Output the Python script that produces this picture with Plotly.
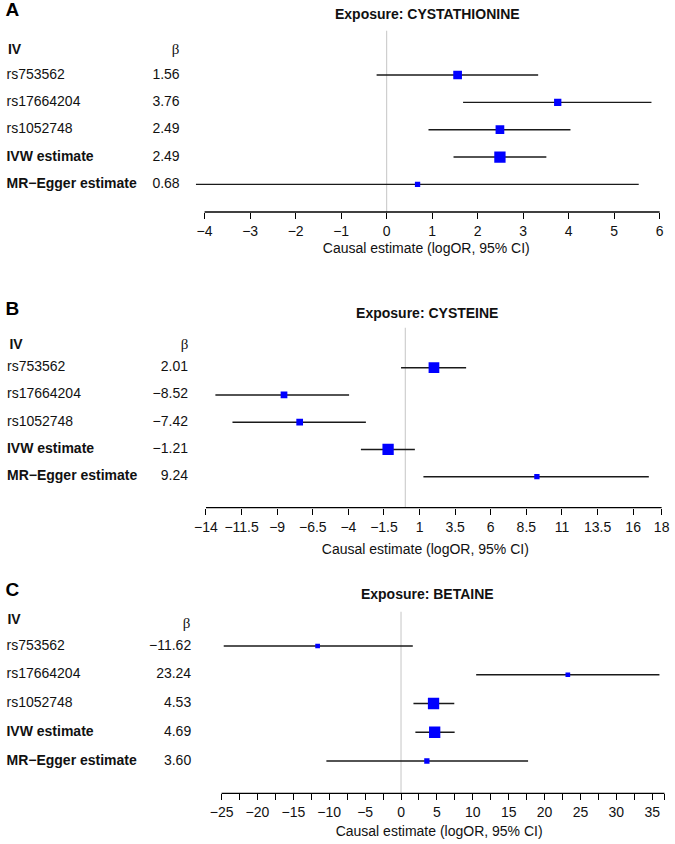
import plotly.graph_objects as go

W, H = 675, 844

# ---------------- data ----------------
iv_labels = ["rs753562", "rs17664204", "rs1052748", "IVW estimate", "MR\u2212Egger estimate"]
iv_bold = [False, False, False, True, True]

titles = ["Exposure: CYSTATHIONINE", "Exposure: CYSTEINE", "Exposure: BETAINE"]
panel_letters = ["A", "B", "C"]

A_beta = [1.56, 3.76, 2.49, 2.49, 0.68]
A_lo = [-0.22, 1.68, 0.92, 1.47, -4.19]
A_hi = [3.33, 5.82, 4.04, 3.51, 5.54]
A_weight = [8.7, 7.3, 8.7, 11.3, 5.3]

B_beta = [2.01, -8.52, -7.42, -1.21, 9.24]
B_lo = [-0.30, -13.34, -12.14, -3.12, 1.27]
B_hi = [4.27, -3.95, -2.77, 0.67, 17.10]
B_weight = [10.7, 6.7, 6.7, 11.3, 5.3]

C_beta = [-11.62, 23.24, 4.53, 4.69, 3.60]
C_lo = [-24.70, 10.47, 1.73, 2.00, -10.40]
C_hi = [1.64, 36.00, 7.42, 7.47, 17.70]
C_weight = [4.7, 4.7, 11.3, 11.3, 5.3]

A_ticks = [-4, -3, -2, -1, 0, 1, 2, 3, 4, 5, 6]
A_ticklabels = ["-4", "-3", "-2", "-1", "0", "1", "2", "3", "4", "5", "6"]
B_ticks = [-14, -11.5, -9, -6.5, -4, -1.5, 1, 3.5, 6, 8.5, 11, 13.5, 16, 18]
B_ticklabels = ["-14", "-11.5", "-9", "-6.5", "-4", "-1.5", "1", "3.5", "6", "8.5", "11", "13.5", "16", "18"]
C_ticks = [-25, -22.5, -20, -17.5, -15, -12.5, -10, -7.5, -5, -2.5, 0, 2.5, 5, 7.5,
           10, 12.5, 15, 17.5, 20, 22.5, 25, 27.5, 30, 32.5, 35, 36.7]
C_ticklabels = ["-25", "", "-20", "", "-15", "", "-10", "", "-5", "", "0", "", "5", "",
                "10", "", "15", "", "20", "", "25", "", "30", "", "35", ""]

axis_title = "Causal estimate (logOR, 95% CI)"

# ---------------- geometry (pixels) ----------------
FONT = "Liberation Sans, Arial, Helvetica, sans-serif"
SERIF = "Liberation Serif, DejaVu Serif, serif"
TXT = "#111111"
panels = [
    dict(beta=A_beta, lo=A_lo, hi=A_hi, w=A_weight, ticks=A_ticks, tl=A_ticklabels,
         cal=(-4, 202.3, 6, 663.5), xr=(-4.5, 6.2),
         row1=75, sp=27.35, top=30.7, axis=212,
         head_y=50, beta_head_y=50, title_y=15, letter_y=11.7, atitle_y=249, atitle_x=427,
         lab_x=1.5, iv_x=3, val_r=177, beta_x=173),
    dict(beta=B_beta, lo=B_lo, hi=B_hi, w=B_weight, ticks=B_ticks, tl=B_ticklabels,
         cal=(-14, 203.7, 18, 665.5), xr=(-14.5, 18.3),
         row1=367.7, sp=27.25, top=327.7, axis=507.7,
         head_y=345, beta_head_y=345, title_y=314.3, letter_y=310, atitle_y=550, atitle_x=426,
         lab_x=2.0, iv_x=4.5, val_r=185.5, beta_x=182),
    dict(beta=C_beta, lo=C_lo, hi=C_hi, w=C_weight, ticks=C_ticks, tl=C_ticklabels,
         cal=(-25, 219.5, 35, 656.0), xr=(-26, 37.2),
         row1=646, sp=28.75, top=611.7, axis=793.3,
         head_y=620, beta_head_y=624, title_y=595.7, letter_y=591.7, atitle_y=832.7, atitle_x=440,
         lab_x=1.5, iv_x=2.5, val_r=188.7, beta_x=184),
]


def fmt(v):
    return ("%.2f" % v).replace("-", "\u2212")


fig = go.Figure()
shapes = []
layout_axes = {}

# pixel overlay axes for all text (x4 / y4)
layout_axes["xaxis4"] = dict(domain=[0, 1], range=[0, W], anchor="y4", visible=False,
                             showgrid=False, zeroline=False)
layout_axes["yaxis4"] = dict(domain=[0, 1], range=[H, 0], anchor="x4", visible=False,
                             showgrid=False, zeroline=False)


def add_text(xs, ys, texts, pos, size=14, family=FONT, color=TXT):
    fig.add_trace(go.Scatter(x=xs, y=ys, text=texts, mode="text", textposition=pos,
                             xaxis="x4", yaxis="y4", cliponaxis=False,
                             marker=dict(size=0.01),
                             textfont=dict(family=family, size=size, color=color),
                             hoverinfo="skip", showlegend=False))


for k, p in enumerate(panels):
    n = k + 1
    xa = "x" if n == 1 else "x%d" % n
    ya = "y" if n == 1 else "y%d" % n
    xkey = "xaxis" if n == 1 else "xaxis%d" % n
    ykey = "yaxis" if n == 1 else "yaxis%d" % n

    v0, p0, v1, p1 = p["cal"]
    unit = (p1 - p0) / (v1 - v0)
    xmin, xmax = p["xr"]
    dom_l = p0 + (xmin - v0) * unit
    dom_r = p0 + (xmax - v0) * unit

    rows = list(range(1, len(iv_labels) + 1))
    y_bot = 1 + (p["axis"] - p["row1"]) / p["sp"]
    y_top = 1 - (p["row1"] - p["top"]) / p["sp"]

    layout_axes[xkey] = dict(
        domain=[dom_l / W, dom_r / W], range=[xmin, xmax], anchor=ya,
        showgrid=False, zeroline=False, showline=False,
        tickmode="array", tickvals=p["ticks"],
        ticktext=[t.replace("-", "\u2212") for t in p["tl"]],
        ticks="outside", ticklen=6, tickwidth=1.2, tickcolor="black",
        tickfont=dict(family=FONT, size=14, color=TXT),
    )
    layout_axes[ykey] = dict(
        domain=[1 - p["axis"] / H, 1 - p["top"] / H], range=[y_bot, y_top], anchor=xa,
        visible=False, showgrid=False, zeroline=False,
    )

    # CI lines
    lx, ly = [], []
    for r, lo, hi in zip(rows, p["lo"], p["hi"]):
        lx += [lo, hi, None]
        ly += [r, r, None]
    fig.add_trace(go.Scatter(x=lx, y=ly, mode="lines", xaxis=xa, yaxis=ya,
                             line=dict(color="#1a1a1a", width=1.4), hoverinfo="skip",
                             showlegend=False))
    # point estimates
    fig.add_trace(go.Scatter(x=p["beta"], y=rows, mode="markers", xaxis=xa, yaxis=ya,
                             marker=dict(symbol="square", size=p["w"], color="#0000FF",
                                         opacity=1, line=dict(width=0)),
                             opacity=1, showlegend=False))

    # zero reference line
    shapes.append(dict(type="line", xref=xa, yref=ya + " domain", x0=0, x1=0, y0=0, y1=1,
                       line=dict(color="#cfcfcf", width=1.2), layer="below"))
    # axis baseline
    shapes.append(dict(type="line", xref=xa, yref=ya + " domain", x0=p["ticks"][0],
                       x1=p["ticks"][-1], y0=0, y1=0, line=dict(color="black", width=1.3)))

    # text (pixel overlay)
    row_px = [p["row1"] + (r - 1) * p["sp"] for r in rows]
    labels = [("<b>%s</b>" % lab) if b else lab for lab, b in zip(iv_labels, iv_bold)]
    add_text([p["lab_x"]] * len(rows), row_px, labels, "middle right")
    add_text([p["val_r"]] * len(rows), row_px, [fmt(b) for b in p["beta"]], "middle left")
    add_text([p["iv_x"]], [p["head_y"]], ["<b>IV</b>"], "middle right")
    add_text([p["beta_x"]], [p["beta_head_y"]], ["\u03b2"], "middle center", size=15, family=SERIF)
    add_text([428], [p["title_y"]], ["<b>%s</b>" % titles[k]], "middle center")
    add_text([0.5], [p["letter_y"]], ["<b>%s</b>" % panel_letters[k]], "middle right", size=19,
             color="black")
    add_text([p["atitle_x"]], [p["atitle_y"]], [axis_title], "middle center")

fig.update_layout(
    width=W, height=H, margin=dict(l=0, r=0, t=0, b=0),
    paper_bgcolor="white", plot_bgcolor="rgba(0,0,0,0)",
    showlegend=False, shapes=shapes,
    **layout_axes,
)

fig.write_html("out.html")
